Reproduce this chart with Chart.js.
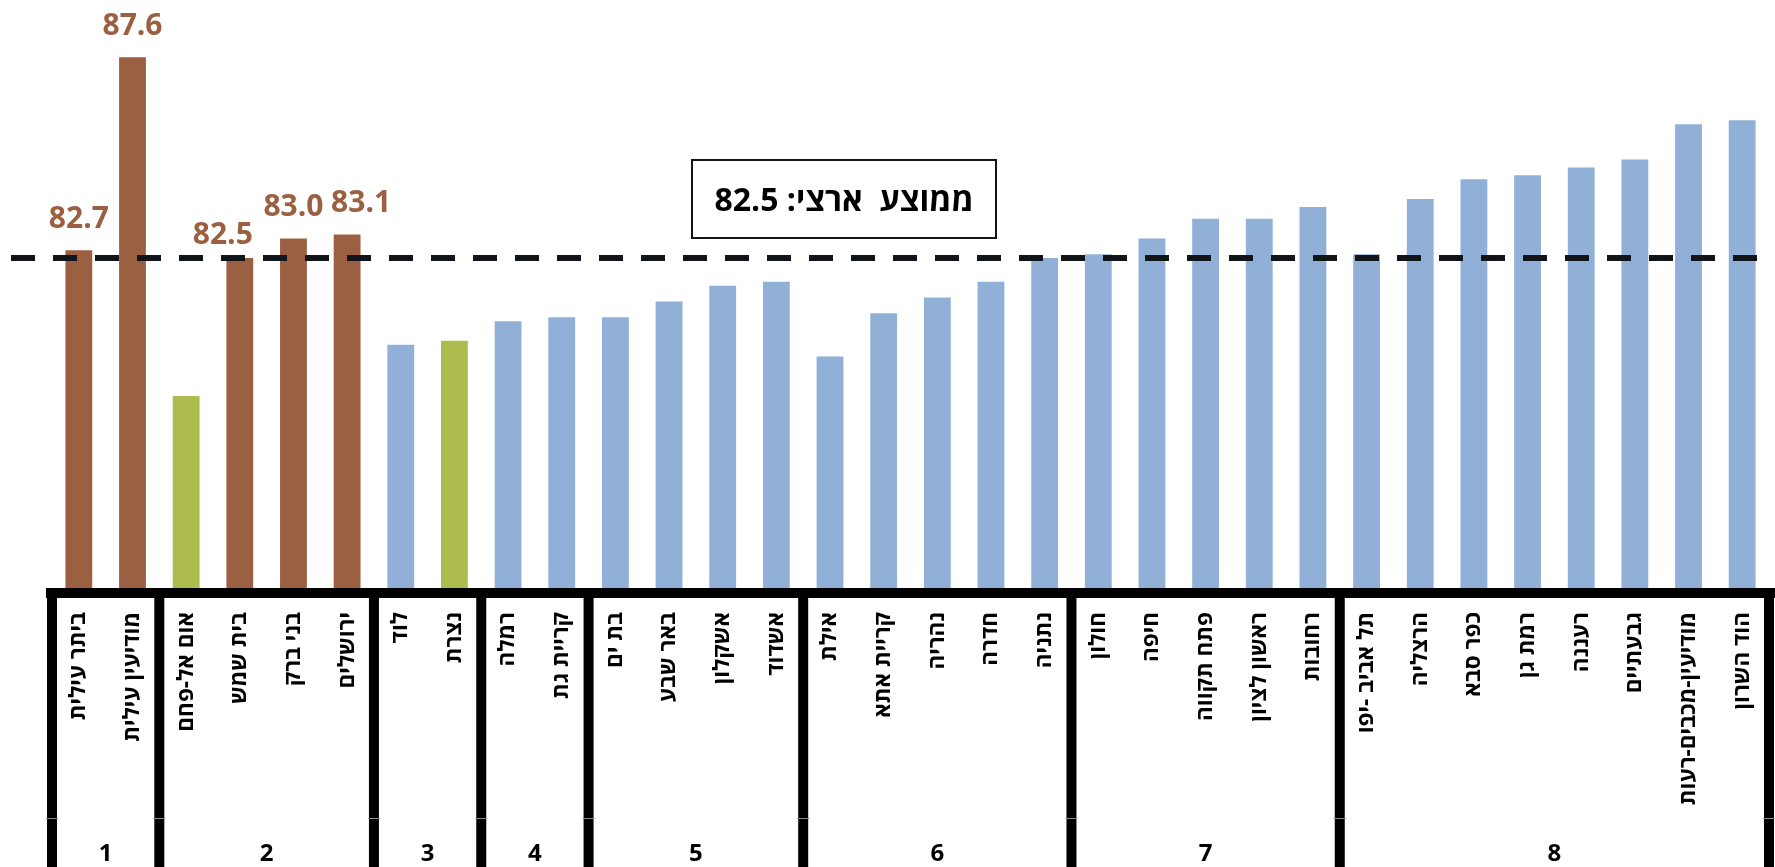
<!DOCTYPE html>
<html lang="he">
<head>
<meta charset="utf-8">
<title>תוחלת חיים לפי יישוב ואשכול</title>
<script src="https://cdn.jsdelivr.net/npm/chart.js@4/dist/chart.umd.min.js"></script>
<style>
  html, body { margin: 0; padding: 0; background: #fff; }
  #wrap { width: 1775px; height: 867px; }
</style>
</head>
<body>
<div id="wrap"><canvas id="chart" width="1775" height="867"></canvas></div>
<script>
// ── נתונים ────────────────────────────────────────────────────────────────
const cities = [
  'ביתר עילית', 'מודיעין עילית',
  'אום אל-פחם', 'בית שמש', 'בני ברק', 'ירושלים',
  'לוד', 'נצרת',
  'רמלה', 'קריית גת',
  'בת ים', 'באר שבע', 'אשקלון', 'אשדוד',
  'אילת', 'קריית אתא', 'נהריה', 'חדרה', 'נתניה',
  'חולון', 'חיפה', 'פתח תקווה', 'ראשון לציון', 'רחובות',
  'תל אביב -יפו', 'הרצליה', 'כפר סבא', 'רמת גן', 'רעננה', 'גבעתיים',
  'מודיעין-מכבים-רעות', 'הוד השרון',
];

const lifeExp = [
  82.7, 87.6,
  79.0, 82.5, 83.0, 83.1,
  80.3, 80.4,
  80.9, 81.0,
  81.0, 81.4, 81.8, 81.9,
  80.0, 81.1, 81.5, 81.9, 82.5,
  82.6, 83.0, 83.5, 83.5, 83.8,
  82.6, 84.0, 84.5, 84.6, 84.8, 85.0,
  85.9, 86.0,
];

// אשכול חברתי-כלכלי של כל יישוב
const cluster = [
  1, 1,
  2, 2, 2, 2,
  3, 3,
  4, 4,
  5, 5, 5, 5,
  6, 6, 6, 6, 6,
  7, 7, 7, 7, 7,
  8, 8, 8, 8, 8, 8, 8, 8,
];

// אוכלוסייה: h = חרדית, a = ערבית, g = כללית
const sector = [
  'h', 'h',
  'a', 'h', 'h', 'h',
  'g', 'a',
  'g', 'g',
  'g', 'g', 'g', 'g',
  'g', 'g', 'g', 'g', 'g',
  'g', 'g', 'g', 'g', 'g',
  'g', 'g', 'g', 'g', 'g', 'g', 'g', 'g',
];

const nationalAvg = 82.5;

// ── סגנון ─────────────────────────────────────────────────────────────────
const COLORS = {
  h: '#9B6041',
  a: '#AEBB4E',
  g: '#90B0D8',
  line: '#111418',
};
const FONT = "'Open Sans', 'Noto Sans', 'DejaVu Sans', sans-serif";

// ── טבלת אשכולות מתחת לציר + קו ממוצע + תוויות ───────────────────────────
const clusterTable = {
  id: 'clusterTable',
  afterDatasetsDraw(chart, args, opts) {
    const { ctx, chartArea: area, scales: { x, y } } = chart;
    const W = chart.width, H = chart.height;
    const step = (area.right - area.left) / cities.length;
    const edge = i => area.left + i * step;

    ctx.save();

    // קו ממוצע ארצי מקווקו
    const yAvg = y.getPixelForValue(nationalAvg);
    ctx.strokeStyle = COLORS.line;
    ctx.lineWidth = 6;
    ctx.setLineDash([24, 18]);
    ctx.beginPath();
    ctx.moveTo(opts.avgStart, yAvg);
    ctx.lineTo(W, yAvg);
    ctx.stroke();
    ctx.setLineDash([]);

    // תוויות ערכים לעמודות החרדיות
    ctx.fillStyle = COLORS.h;
    ctx.font = `bold 30px ${FONT}`;
    ctx.textAlign = 'center';
    ctx.textBaseline = 'middle';
    lifeExp.forEach((v, i) => {
      if (sector[i] !== 'h') return;
      const [dx, dy] = opts.nudge[i] || [0, 0];
      ctx.fillText(v.toFixed(1), x.getPixelForValue(i) + dx, y.getPixelForValue(v) - 31 + dy);
    });

    // תיבת ממוצע ארצי
    const b = opts.box;
    ctx.lineWidth = 2;
    ctx.strokeStyle = COLORS.line;
    ctx.fillStyle = '#fff';
    ctx.fillRect(b.x, b.y, b.w, b.h);
    ctx.strokeRect(b.x, b.y, b.w, b.h);
    ctx.fillStyle = '#000';
    ctx.font = `bold 32px ${FONT}`;
    ctx.direction = 'rtl';
    ctx.fillText('ממוצע  ארצי: ' + nationalAvg.toFixed(1), b.x + b.w / 2, b.y + b.h / 2 + 3);
    ctx.direction = 'ltr';

    // קווי הטבלה
    const base = area.bottom;
    ctx.strokeStyle = '#000';
    ctx.lineWidth = 10;
    ctx.beginPath();
    ctx.moveTo(area.left - 6, base);
    ctx.lineTo(W, base);
    ctx.stroke();

    const bounds = [0];
    cluster.forEach((c, i) => { if (i > 0 && c !== cluster[i - 1]) bounds.push(i); });
    bounds.push(cluster.length);

    ctx.beginPath();
    bounds.forEach(i => {
      ctx.moveTo(edge(i), base);
      ctx.lineTo(edge(i), H);
    });
    ctx.stroke();

    // קו דק בין השמות למספרי האשכול (נראה רק על גבי הקווים העבים)
    ctx.strokeStyle = '#8a8a8a';
    ctx.lineWidth = 1;
    ctx.beginPath();
    bounds.forEach(i => {
      ctx.moveTo(edge(i) - 6, opts.splitY + 0.5);
      ctx.lineTo(edge(i) + 6, opts.splitY + 0.5);
    });
    ctx.stroke();

    // שמות היישובים, מסובבים
    ctx.fillStyle = '#000';
    ctx.font = `bold 22.5px ${FONT}`;
    ctx.textAlign = 'right';
    ctx.textBaseline = 'middle';
    cities.forEach((name, i) => {
      ctx.save();
      ctx.translate(x.getPixelForValue(i), base + 19);
      ctx.rotate(-Math.PI / 2);
      ctx.fillText(name, 0, 0);
      ctx.restore();
    });

    // מספרי האשכולות
    ctx.font = `bold 24px ${FONT}`;
    ctx.textAlign = 'center';
    for (let k = 0; k < bounds.length - 1; k++) {
      const cx = (edge(bounds[k]) + edge(bounds[k + 1])) / 2;
      ctx.fillText(String(cluster[bounds[k]]), cx, opts.clusterY);
    }

    ctx.restore();
  },
};

new Chart(document.getElementById('chart'), {
  type: 'bar',
  data: {
    labels: cities,
    datasets: [{
      label: 'תוחלת חיים',
      data: lifeExp,
      backgroundColor: sector.map(s => COLORS[s]),
      barPercentage: 0.5,
      categoryPercentage: 1,
    }],
  },
  options: {
    responsive: false,
    animation: false,
    layout: { padding: { top: 2, left: 52, right: 6, bottom: 274 } },
    plugins: {
      legend: { display: false },
      tooltip: { enabled: false },
      clusterTable: {
        avgStart: 11,
        nudge: { 3: [-17, 8], 5: [14, 0] },
        box: { x: 692, y: 160, w: 304, h: 78 },
        splitY: 818,
        clusterY: 854,
      },
    },
    scales: {
      x: { display: false },
      y: { display: false, min: 74, max: 89 },
    },
  },
  plugins: [clusterTable],
});
</script>
</body>
</html>
